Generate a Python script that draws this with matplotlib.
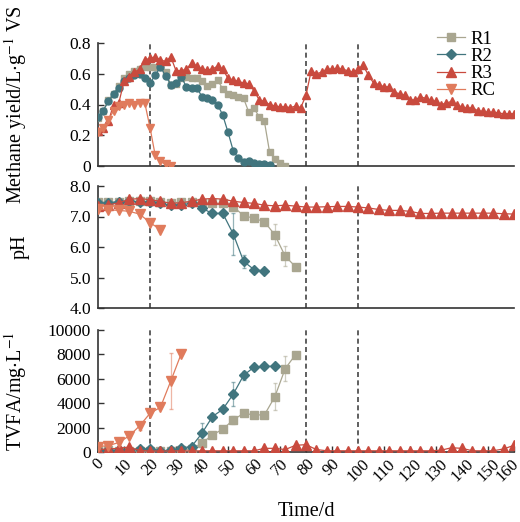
import matplotlib
matplotlib.use('Agg')
import matplotlib.pyplot as plt
import matplotlib.transforms as mtransforms
import numpy as np

plt.rcParams['font.family'] = ['Liberation Serif', 'DejaVu Serif']
plt.rcParams['mathtext.fontset'] = 'stix'

# ---------------- data ----------------
# Methane yield (L/g VS), sampled every 2 days
my_days_r1 = np.arange(0, 73, 2)
my_r1 = [0.31, 0.36, 0.43, 0.47, 0.52, 0.57, 0.60, 0.62, 0.63, 0.645, 0.645, 0.645, 0.645,
         0.61, 0.53, 0.535, 0.57, 0.58, 0.575, 0.57, 0.55, 0.52, 0.535, 0.56, 0.50, 0.47,
         0.46, 0.45, 0.44, 0.35, 0.375, 0.32, 0.29, 0.09, 0.045, 0.02, 0.0]
my_days_r2 = np.arange(0, 67, 2)
my_r2 = [0.32, 0.36, 0.42, 0.47, 0.51, 0.55, 0.57, 0.59, 0.60, 0.57, 0.54, 0.59, 0.645,
         0.585, 0.53, 0.54, 0.58, 0.515, 0.51, 0.51, 0.45, 0.445, 0.43, 0.40, 0.33, 0.22,
         0.10, 0.05, 0.025, 0.03, 0.02, 0.015, 0.01, 0.005]
my_days_r3 = np.arange(0, 161, 2)
my_r3 = [0.23, 0.25, 0.29, 0.40, 0.41, 0.55, 0.58, 0.61, 0.63, 0.69, 0.70, 0.71, 0.69,
         0.68, 0.71, 0.62, 0.62, 0.63, 0.67, 0.65, 0.63, 0.625, 0.63, 0.65, 0.63, 0.57,
         0.56, 0.55, 0.54, 0.535, 0.49, 0.43, 0.42, 0.40, 0.39, 0.385, 0.385, 0.38, 0.39,
         0.38, 0.46, 0.62, 0.60, 0.61, 0.63, 0.63, 0.635, 0.63, 0.62, 0.61, 0.63, 0.655,
         0.59, 0.54, 0.53, 0.515, 0.515, 0.48, 0.47, 0.46, 0.43, 0.43, 0.45, 0.44, 0.43,
         0.42, 0.40, 0.41, 0.42, 0.395, 0.385, 0.375, 0.38, 0.36, 0.355, 0.35, 0.35,
         0.345, 0.34, 0.34, 0.34]
my_days_rc = np.arange(0, 29, 2)
my_rc = [0.22, 0.25, 0.30, 0.36, 0.39, 0.40, 0.41, 0.40, 0.41, 0.41, 0.25, 0.07, 0.03,
         0.01, 0.0]

# pH, sampled every 4 days
ph_days_r1 = np.arange(0, 77, 4)
ph_r1 = [7.47, 7.48, 7.47, 7.50, 7.50, 7.50, 7.47, 7.45, 7.47, 7.48, 7.45, 7.43, 7.43,
         7.32, 7.03, 6.94, 6.83, 6.40, 5.70, 5.35]
ph_r1_err = [0, 0, 0, 0, 0, 0, 0, 0, 0, 0, 0, 0, 0, 0.1, 0, 0, 0, 0.35, 0.33, 0]
ph_days_r2 = np.arange(0, 65, 4)
ph_r2 = [7.43, 7.45, 7.48, 7.50, 7.48, 7.47, 7.43, 7.37, 7.39, 7.43, 7.27, 7.10, 7.10,
         6.43, 5.53, 5.26, 5.21]
ph_r2_err = [0, 0, 0, 0, 0, 0, 0, 0, 0, 0, 0.1, 0, 0, 0.68, 0.22, 0, 0]
ph_days_r3 = np.arange(0, 161, 4)
ph_r3 = [7.35, 7.38, 7.45, 7.56, 7.59, 7.55, 7.50, 7.43, 7.45, 7.50, 7.57, 7.59, 7.57,
         7.50, 7.46, 7.43, 7.37, 7.35, 7.37, 7.34, 7.31, 7.31, 7.32, 7.33, 7.33, 7.31,
         7.28, 7.23, 7.20, 7.20, 7.17, 7.10, 7.10, 7.11, 7.11, 7.11, 7.11, 7.11, 7.11,
         7.09, 7.08]
ph_days_rc = np.arange(0, 25, 4)
ph_rc = [7.24, 7.22, 7.20, 7.17, 7.08, 6.80, 6.57]

# TVFA (mg/L), sampled every 4 days
tv_days_r1 = np.arange(0, 77, 4)
tv_r1 = [150, 150, 100, 100, 100, 100, 100, 100, 150, 250, 730, 1400, 1870, 2630, 3170,
         3040, 3040, 4520, 6830, 7990]
tv_r1_err = [0, 0, 0, 0, 0, 0, 0, 0, 0, 0, 0, 0, 0, 300, 0, 0, 0, 1100, 1050, 0]
tv_days_r2 = np.arange(0, 69, 4)
tv_r2 = [150, 150, 150, 200, 250, 250, 100, 150, 330, 450, 1540, 2900, 3500, 4740, 6280,
         6960, 7020, 7020]
tv_r2_err = [0, 0, 0, 0, 0, 0, 0, 0, 0, 0, 800, 300, 0, 1000, 350, 0, 0, 0]
tv_days_r3 = np.arange(0, 161, 4)
tv_r3 = [200, 250, 300, 400, 120, 80, 80, 80, 100, 80, 100, 100, 100, 100, 100, 100, 300,
         300, 200, 550, 600, 200, 100, 100, 100, 100, 100, 100, 100, 100, 100, 100, 100,
         150, 350, 300, 100, 100, 100, 250, 550]
tv_days_rc = np.arange(0, 33, 4)
tv_rc = [450, 520, 780, 1320, 2140, 3170, 3660, 5820, 8050]
tv_rc_err = [0, 0, 0, 200, 300, 0, 0, 2300, 0]

stage_days = [20, 80, 100]
labels = ['R1', 'R2', 'R3', 'RC']
x_ticks = np.arange(0, 161, 10)

# ---------------- style ----------------
C_R1 = '#a9a690'
C_R2 = '#41757e'
C_R3 = '#c94a3e'
C_RC = '#e07b5c'
SPINE = '#333333'

fig = plt.figure(figsize=(5.2, 5.22), dpi=100)
L, W = 98 / 520, 416 / 520
ax1 = fig.add_axes([L, 1 - 166 / 522, W, 123 / 522])
ax2 = fig.add_axes([L, 1 - 308 / 522, W, 122 / 522])
ax3 = fig.add_axes([L, 1 - 452 / 522, W, 122 / 522])

for ax in (ax1, ax2, ax3):
    ax.set_xlim(0, 160)
    for s in ('top', 'right'):
        ax.spines[s].set_visible(False)
    for s in ('left', 'bottom'):
        ax.spines[s].set_color(SPINE)
        ax.spines[s].set_linewidth(1.2)
    ax.tick_params(axis='y', direction='in', length=4, width=1, color=SPINE,
                   labelsize=12.5, pad=5)
    for d in stage_days:
        ax.axvline(d, color='#444444', lw=1.2, ls=(0, (3, 2)), zorder=1)
    ax.set_facecolor('none')

for ax in (ax1, ax2):
    ax.tick_params(axis='x', bottom=False, labelbottom=False)

lw = 0.9
# ---- methane ----
ax1.plot(my_days_r1, my_r1, color=C_R1, marker='s', ms=5, lw=lw, zorder=3)
ax1.plot(my_days_r2, my_r2, color=C_R2, marker='o', ms=5, lw=lw, zorder=3)
ax1.plot(my_days_r3, my_r3, color=C_R3, marker='^', ms=5.5, lw=lw, zorder=3)
ax1.plot(my_days_rc, my_rc, color=C_RC, marker='v', ms=5.5, lw=lw, zorder=3)
ax1.set_ylim(0, 0.8)
ax1.set_yticks([0, 0.2, 0.4, 0.6, 0.8])
ax1.set_yticklabels(['0', '0.2', '0.4', '0.6', '0.8'])
ax1.set_ylabel(r'Methane yield/L$\cdot$g$^{-1}$ VS', fontsize=14.5)

# ---- pH ----
def eb(ax, x, y, e, c):
    ax.errorbar(x, y, yerr=e, fmt='none', ecolor=c, alpha=0.55, elinewidth=0.9,
                capsize=1.5, zorder=2)

eb(ax2, ph_days_r1, ph_r1, ph_r1_err, C_R1)
eb(ax2, ph_days_r2, ph_r2, ph_r2_err, C_R2)
h1, = ax2.plot(ph_days_r1, ph_r1, color=C_R1, marker='s', ms=6, lw=lw, zorder=3)
h2, = ax2.plot(ph_days_r2, ph_r2, color=C_R2, marker='D', ms=5.5, lw=lw, zorder=3)
h3, = ax2.plot(ph_days_r3, ph_r3, color=C_R3, marker='^', ms=6.5, lw=lw, zorder=3)
h4, = ax2.plot(ph_days_rc, ph_rc, color=C_RC, marker='v', ms=6.5, lw=lw, zorder=3)
ax2.set_ylim(4, 8)
ax2.set_yticks([4, 5, 6, 7, 8])
ax2.set_yticklabels(['4.0', '5.0', '6.0', '7.0', '8.0'])
ax2.set_ylabel('pH', fontsize=14.5)

# ---- TVFA ----
eb(ax3, tv_days_r1, tv_r1, tv_r1_err, C_R1)
eb(ax3, tv_days_r2, tv_r2, tv_r2_err, C_R2)
eb(ax3, tv_days_rc, tv_rc, tv_rc_err, C_RC)
ax3.plot(tv_days_r1, tv_r1, color=C_R1, marker='s', ms=6, lw=lw, zorder=3)
ax3.plot(tv_days_r2, tv_r2, color=C_R2, marker='D', ms=5.5, lw=lw, zorder=3)
ax3.plot(tv_days_r3, tv_r3, color=C_R3, marker='^', ms=6.5, lw=lw, zorder=3)
ax3.plot(tv_days_rc, tv_rc, color=C_RC, marker='v', ms=6.5, lw=lw, zorder=3)
ax3.set_ylim(0, 10000)
ax3.set_yticks([0, 2000, 4000, 6000, 8000, 10000])
ax3.set_ylabel(r'TVFA/mg$\cdot$L$^{-1}$', fontsize=14.5)
ax3.set_xticks(x_ticks)
ax3.set_xticklabels([str(v) for v in x_ticks], rotation=45, ha='center')
ax3.tick_params(axis='x', direction='in', length=4, width=1, color=SPINE,
                labelsize=12, pad=3)
# nudge the last label so it stays inside the figure
last = ax3.get_xticklabels()[-1]
last.set_transform(last.get_transform() +
                   mtransforms.ScaledTranslation(-7 / 100, 0, fig.dpi_scale_trans))
ax3.set_xlabel('Time/d', fontsize=14.5)
ax3.xaxis.set_label_coords(0.5, -0.41)

for ax in (ax1, ax2, ax3):
    ax.yaxis.set_label_coords(-0.165, 0.5)

ax1.legend([h1, h2, h3, h4], labels, loc='upper left', bbox_to_anchor=(0.815, 1.10),
           frameon=False, fontsize=13.5, handlelength=1.5, handletextpad=0.3,
           labelspacing=0.0, borderpad=0, borderaxespad=0)

fig.savefig('out.png', dpi=100)
